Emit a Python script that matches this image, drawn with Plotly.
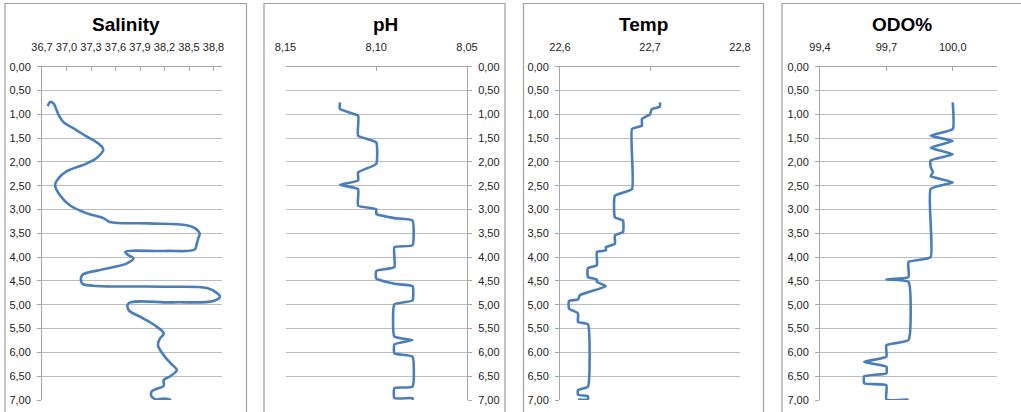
import plotly.graph_objects as go

# ---------------- data ----------------
sal_depth = [0.83, 0.74, 0.77, 1.00, 1.16, 1.33, 1.47, 1.60, 1.74, 1.90, 2.03, 2.20, 2.35, 2.49, 2.70,
             2.91, 3.08, 3.18, 3.26, 3.29, 3.33, 3.40, 3.50, 3.62, 3.75, 3.84, 3.87, 3.89, 3.95, 4.03,
             4.13, 4.27, 4.38, 4.55, 4.60, 4.62, 4.65, 4.75, 4.83, 4.92, 4.95, 4.97, 5.11, 5.25, 5.43,
             5.60, 5.72, 5.85, 6.06, 6.22, 6.37, 6.50, 6.58, 6.70, 6.78, 6.83, 6.92, 6.99, 6.97, 6.99, 6.98]
sal_vals = [36.77, 36.80, 36.84, 36.90, 36.96, 37.12, 37.25, 37.38, 37.45, 37.38, 37.25, 37.00, 36.90, 36.86, 36.92,
            37.04, 37.25, 37.45, 37.53, 38.00, 38.47, 38.58, 38.63, 38.61, 38.59, 38.57, 38.20, 37.72, 37.75, 37.82,
            37.74, 37.41, 37.19, 37.19, 37.33, 38.20, 38.72, 38.84, 38.88, 38.80, 38.30, 37.76, 37.76, 37.90, 38.08,
            38.19, 38.14, 38.12, 38.19, 38.27, 38.35, 38.27, 38.19, 38.19, 38.08, 38.04, 38.04, 38.10, 38.20, 38.27, 38.12]

ph_depth = [0.75, 0.89, 1.03, 1.45, 1.59, 2.04, 2.22, 2.39, 2.48, 2.57, 2.92, 2.99, 3.09, 3.18, 3.23, 3.75,
            3.79, 4.21, 4.29, 4.45, 4.56, 4.61, 4.91, 4.99, 5.67, 5.74, 5.83, 6.02, 6.09, 6.72, 6.75, 6.96, 6.96, 7.00]
ph_vals = [8.12, 8.12, 8.11, 8.11, 8.10, 8.10, 8.11, 8.11, 8.12, 8.11, 8.11, 8.10, 8.10, 8.09, 8.08, 8.08,
           8.09, 8.09, 8.10, 8.10, 8.09, 8.08, 8.08, 8.09, 8.09, 8.08, 8.09, 8.09, 8.08, 8.08, 8.09, 8.09, 8.08, 8.08]

temp_depth = [0.75, 0.84, 0.89, 1.00, 1.10, 1.24, 1.31, 2.57, 2.71, 3.16, 3.23, 3.47, 3.54, 3.72, 3.79, 3.86,
              3.89, 4.17, 4.23, 4.42, 4.47, 4.52, 4.61, 4.80, 4.89, 4.92, 5.08, 5.18, 5.36, 5.41, 6.72, 6.79,
              6.89, 6.92, 6.99, 6.99]
temp_vals = [22.711, 22.711, 22.702, 22.700, 22.691, 22.691, 22.680, 22.680, 22.661, 22.661, 22.670, 22.670,
             22.661, 22.661, 22.651, 22.651, 22.641, 22.641, 22.631, 22.631, 22.641, 22.641, 22.651, 22.622,
             22.620, 22.610, 22.610, 22.620, 22.620, 22.631, 22.631, 22.620, 22.620, 22.631, 22.631, 22.620]

odo_depth = [0.75, 1.31, 1.45, 1.56, 1.70, 1.84, 1.97, 2.10, 2.22, 2.30, 2.43, 2.57, 4.00, 4.10, 4.42, 4.47,
             4.52, 5.74, 5.85, 6.09, 6.20, 6.30, 6.44, 6.50, 6.65, 6.69, 6.99, 6.99]
odo_vals = [100.0, 100.0, 99.9, 100.0, 99.9, 100.0, 99.9, 99.9, 99.91, 99.9, 100.0, 99.9, 99.9, 99.8, 99.8, 99.7,
            99.8, 99.8, 99.7, 99.7, 99.6, 99.7, 99.7, 99.6, 99.6, 99.7, 99.7, 99.8]

titles = ["Salinity", "pH", "Temp", "ODO%"]

# ---------------- layout helpers ----------------
W, H = 1021, 412
def px_x(v):
    return v / W
def px_y(v):
    return 1 - v / H

LINE = "#4A7EBB"
GRID = "#BDBDBD"
AXIS = "#A6A6A6"
BORDER = "#A0A0A0"
FONT = "Liberation Sans"

panels = [
    dict(x=sal_vals, y=sal_depth, dom=(42, 221.7), rng=[36.7, 38.9], dtick=0.3, tick0=36.7,
         fmt=".1f", yside="left", shape="spline", smooth=1.0, box=(5, 246.5), tx=126),
    dict(x=ph_vals, y=ph_depth, dom=(285.5, 467), rng=[8.15, 8.05], dtick=0.05, tick0=8.05,
         fmt=".2f", yside="right", shape="spline", smooth=0.4, box=(264, 505), tx=385),
    dict(x=temp_vals, y=temp_depth, dom=(560, 740), rng=[22.6, 22.8], dtick=0.1, tick0=22.6,
         fmt=".1f", yside="left", shape="spline", smooth=0.4, box=(523.5, 763.5), tx=643),
    dict(x=odo_vals, y=odo_depth, dom=(820, 997), rng=[99.4, 100.2], dtick=0.3, tick0=99.4,
         fmt=".1f", yside="left", shape="spline", smooth=0.4, box=(782, 1040), tx=902),
]

fig = go.Figure()
layout = dict(
    template="none",
    width=W, height=H, margin=dict(l=0, r=0, t=0, b=0, autoexpand=False),
    paper_bgcolor="white", plot_bgcolor="white", showlegend=False,
    separators=", ", font=dict(family=FONT, size=11, color="#222222"),
    shapes=[], annotations=[],
)

ydom = [px_y(400), px_y(66.7)]
for i, p in enumerate(panels):
    n = "" if i == 0 else str(i + 1)
    xa, ya = "x" + n, "y" + n
    fig.add_trace(go.Scatter(
        x=p["x"], y=p["y"], mode="lines", xaxis=xa, yaxis=ya,
        line=dict(color=LINE, width=2.6, shape=p["shape"], smoothing=p["smooth"]),
        hoverinfo="skip"))
    layout["xaxis" + n] = dict(
        domain=[px_x(p["dom"][0]), px_x(p["dom"][1])], range=p["rng"], anchor=ya,
        side="top", tick0=p["tick0"], dtick=p["dtick"], tickformat=p["fmt"],
        showgrid=False, zeroline=False, showline=True, linecolor=AXIS, linewidth=1,
        ticks="inside", ticklen=4, tickcolor=AXIS, ticklabelstandoff=10, automargin=False,
        tickfont=dict(family=FONT, size=11, color="#222222"), fixedrange=True)
    layout["yaxis" + n] = dict(
        domain=ydom, range=[7, 0], anchor=xa, side=p["yside"],
        tick0=0, dtick=0.5, tickformat=".2f",
        showgrid=True, gridcolor=GRID, gridwidth=1.3, zeroline=False,
        showline=True, linecolor=AXIS, linewidth=1, mirror=False,
        ticks="outside", ticklen=4, tickcolor=AXIS, ticklabelstandoff=4, automargin=False,
        tickfont=dict(family=FONT, size=11, color="#222222"), fixedrange=True)
    # chart box
    layout["shapes"].append(dict(
        type="rect", xref="paper", yref="paper",
        x0=px_x(p["box"][0]), x1=px_x(p["box"][1]), y0=-0.2, y1=px_y(3.5),
        line=dict(color=BORDER, width=1.2), fillcolor="rgba(0,0,0,0)", layer="below"))
    layout["annotations"].append(dict(
        text="<b>" + titles[i] + "</b>", xref="paper", yref="paper",
        x=px_x(p["tx"]), y=px_y(25), xanchor="center", yanchor="middle",
        showarrow=False, font=dict(family=FONT, size=19, color="#000000")))

fig.update_layout(**layout)
fig.write_html("out.html", config={"displayModeBar": False},
               post_script="document.body.style.margin='0';document.body.style.padding='0';")
